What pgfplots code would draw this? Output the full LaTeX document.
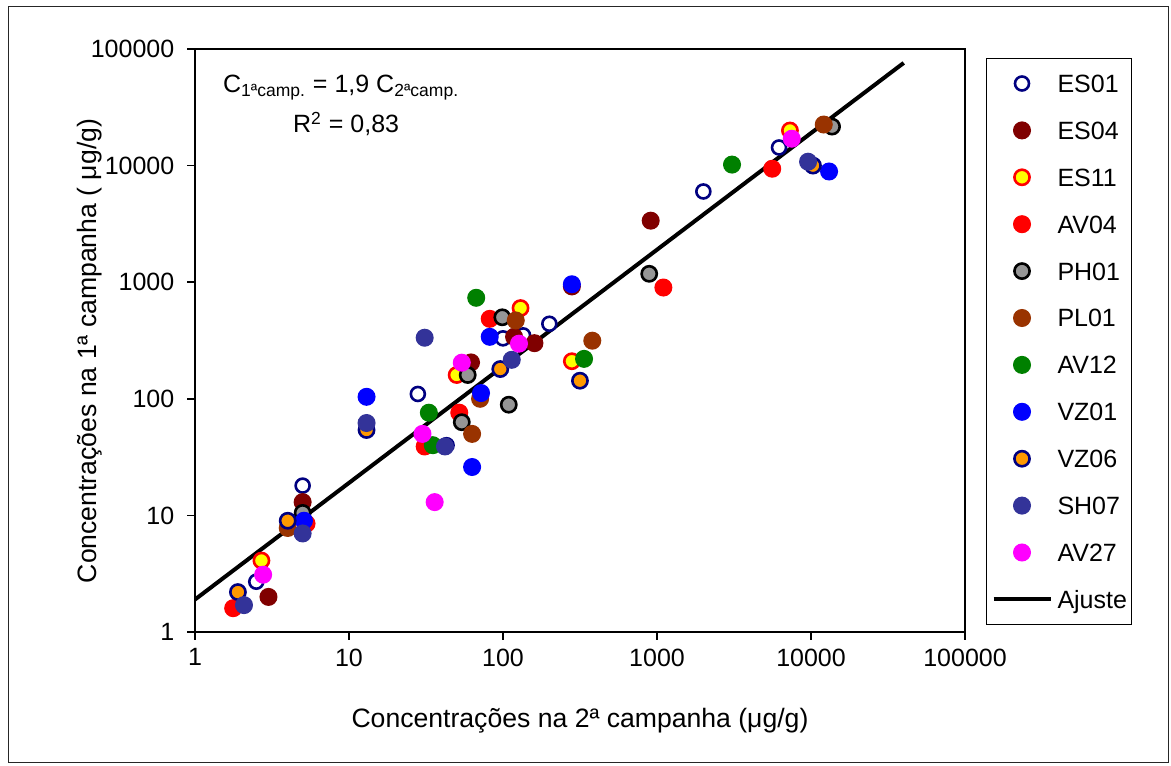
\documentclass[border=0pt]{standalone}
\usepackage{fontspec}
\setmainfont{Liberation Sans}
\usepackage{pgfplots}
\pgfplotsset{compat=1.18}
\definecolor{Navy}{HTML}{000080}
\definecolor{Maroon}{HTML}{800000}
\definecolor{Yel}{HTML}{FFFF00}
\definecolor{Rd}{HTML}{FF0000}
\definecolor{Gry}{HTML}{969696}
\definecolor{Brn}{HTML}{993300}
\definecolor{Grn}{HTML}{008000}
\definecolor{Blu}{HTML}{0000FF}
\definecolor{Org}{HTML}{FF9900}
\definecolor{Slate}{HTML}{333399}
\definecolor{Mag}{HTML}{FF00FF}
\newcommand{\fs}{\fontsize{12.5}{15}\selectfont}
\newcommand{\fl}{\fontsize{13.3}{16}\selectfont}
\tikzset{
  dot/.style={only marks,mark=*,mark size=4.2pt,draw=#1,fill=#1,line width=0.6pt},
  ring/.style 2 args={only marks,mark=*,mark size=3.8pt,draw=#1,fill=#2,line width=1.3pt}
}

\begin{document}
\fs
\begin{tikzpicture}
\useasboundingbox (0,0) rectangle (585.5pt,382.5pt);
\draw[black!85,line width=0.5pt] (4pt,1.5pt) rectangle (584pt,379pt);
\begin{axis}[
  at={(97.5pt,66.5pt)},anchor=south west,
  scale only axis,width=385pt,height=291.5pt,
  xmode=log,ymode=log,
  xmin=1,xmax=100000,ymin=1,ymax=100000,
  xtick={1,10,100,1000,10000,100000},
  ytick={1,10,100,1000,10000,100000},
  xticklabels={1,10,100,1000,10000,100000},
  yticklabels={1,10,100,1000,10000,100000},
  xminorticks=false,yminorticks=false,
  xtick pos=bottom,ytick pos=left,
  tick align=outside,major tick length=4pt,
  tick style={black,line width=0.75pt},
  axis line style={line width=0.75pt},
  tick label style={font=\fs},
  yticklabel style={xshift=-2pt},
  legend image code/.code={\draw[mark repeat=2,mark phase=2] plot coordinates {(0pt,0pt) (14.25pt,0pt) (28.5pt,0pt)};},
  legend cell align=left,
  legend style={at={(1,1)},anchor=north west,xshift=10.5pt,yshift=-4.5pt,
    draw=black,line width=0.5pt,font=\fs,
    inner xsep=2.5pt,inner ysep=7pt,column sep=2.5pt,row sep=12.45pt,
    nodes={inner sep=0pt,text height=10pt,text depth=1pt}},
]
% fitted line, drawn under the points
\addplot[black,line width=2pt,no markers,forget plot] coordinates {(1,1.9) (40000,76000)};

\addplot[ring={Navy}{white},mark size=3.5pt] coordinates {
 (2.5,2.7) (5,18) (28,110) (43,40) (100,330) (135,350) (200,440) (2000,6000) (6200,14300)};
\addlegendentry{ES01}
\addplot[dot=Maroon] coordinates {
 (3,2) (5,13) (62,205) (118,340) (160,300) (280,920) (910,3370)};
\addlegendentry{ES04}
\addplot[ring={Rd}{Yel}] coordinates {
 (2.7,4.1) (50,160) (130,600) (280,210) (7300,20000)};
\addlegendentry{ES11}
\addplot[dot=Rd] coordinates {
 (1.77,1.6) (5.3,8.5) (31,39) (52,76) (82,485) (1100,900) (5600,9400)};
\addlegendentry{AV04}
\addplot[ring={black}{Gry}] coordinates {
 (5,10.5) (54,63) (59,160) (99,500) (109,89) (890,1180) (13700,21600)};
\addlegendentry{PH01}
\addplot[dot=Brn] coordinates {
 (4,7.8) (63,50) (71,100) (121,470) (380,315) (12100,22500)};
\addlegendentry{PL01}
\addplot[dot=Grn] coordinates {
 (33,76) (35,40) (67,735) (336,220) (3070,10200)};
\addlegendentry{AV12}
\addplot[dot=Blu] coordinates {
 (5.1,9) (13,104) (63,26) (72,112) (82,340) (280,960) (13100,8900)};
\addlegendentry{VZ01}
\addplot[ring={Navy}{Org}] coordinates {
 (1.9,2.2) (4,9) (13,54) (96,180) (316,143) (10300,10000)};
\addlegendentry{VZ06}
\addplot[dot=Slate] coordinates {
 (2.08,1.7) (5,7) (13,62) (31,334) (42,39) (114,216) (9570,10800)};
\addlegendentry{SH07}
\addplot[dot=Mag] coordinates {
 (2.77,3.1) (30,50) (36,13) (54,204) (127,297) (7500,17000)};
\addlegendentry{AV27}
\addlegendimage{black,line width=2pt,no markers}
\addlegendentry{Ajuste\hspace{2.5pt}}

\node[anchor=base west,inner sep=0pt,font=\fs] at (rel axis cs:0.036,0.926)
  {C\textsubscript{1ªcamp.} = 1,9 C\textsubscript{2ªcamp.}};
\node[anchor=base west,inner sep=0pt,font=\fs] at (rel axis cs:0.127,0.856)
  {R\textsuperscript{2} = 0,83};
\end{axis}
\node[anchor=base,inner sep=0pt,font=\fl] at (290pt,19pt)
  {Concentrações na 2ª campanha (μg/g)};
\node[anchor=base,rotate=90,inner sep=0pt,font=\fl] at (48pt,207pt)
  {Concentrações na 1ª campanha ( μg/g)};
\end{tikzpicture}
\end{document}
